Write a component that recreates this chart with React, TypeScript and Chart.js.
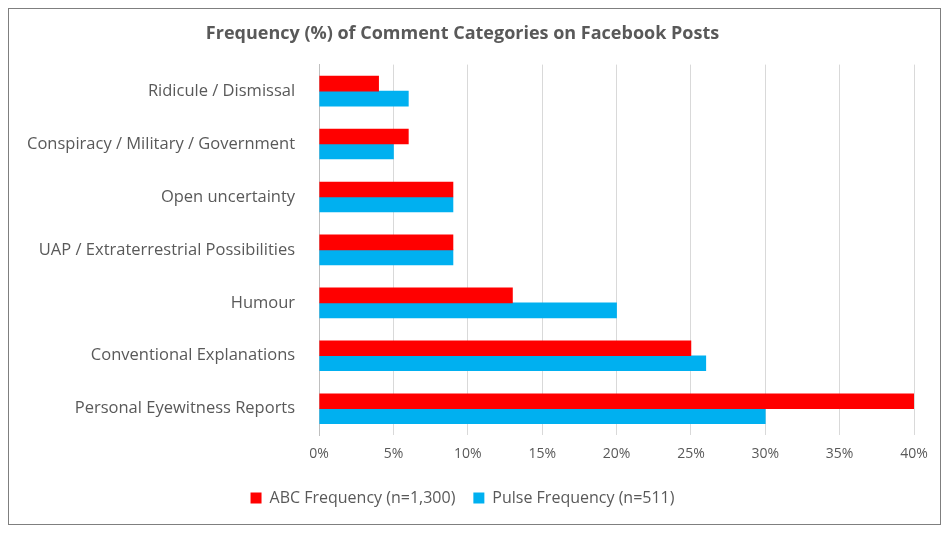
import React, { useEffect, useRef } from "react";
import { Chart, registerables } from "chart.js";
Chart.register(...registerables);

const categories = [
  "Ridicule / Dismissal",
  "Conspiracy / Military / Government",
  "Open uncertainty",
  "UAP / Extraterrestrial Possibilities",
  "Humour",
  "Conventional Explanations",
  "Personal Eyewitness Reports",
];
const abcValues = [4, 6, 9, 9, 13, 25, 40];
const pulseValues = [6, 5, 9, 9, 20, 26, 30];

export default function App() {
  const ref = useRef<HTMLCanvasElement>(null);
  useEffect(() => {
    const font = "'Open Sans', 'Liberation Sans', sans-serif";
    const chart = new Chart(ref.current!, {
      type: "bar",
      data: {
        labels: categories,
        datasets: [
          { label: "ABC Frequency (n=1,300)", data: abcValues, backgroundColor: "#FF0000", barThickness: 15 },
          { label: "Pulse Frequency (n=511)", data: pulseValues, backgroundColor: "#00B0F0", barThickness: 15 },
        ],
      },
      options: {
        indexAxis: "y",
        animation: false,
        responsive: true,
        maintainAspectRatio: false,
        layout: { padding: { left: 2, right: 26, top: 6, bottom: 8 } },
        plugins: {
          title: {
            display: true,
            text: "Frequency (%) of Comment Categories on Facebook Posts",
            color: "#595959",
            font: { family: font, size: 18, weight: "bold" },
            padding: { top: 8, bottom: 20 },
          },
          legend: {
            position: "bottom",
            labels: { color: "#595959", font: { family: font, size: 16 }, boxWidth: 11, boxHeight: 11, padding: 18 },
          },
          tooltip: { enabled: false },
        },
        scales: {
          x: {
            min: 0,
            max: 40,
            ticks: { stepSize: 5, color: "#595959", font: { family: font, size: 14 }, padding: 10, callback: (v: any) => v + "%" },
            grid: { color: "#D9D9D9", drawTicks: false },
            border: { display: false },
          },
          y: {
            ticks: { color: "#595959", font: { family: font, size: 16.5 }, padding: 16 },
            grid: { display: false },
            border: { color: "#BFBFBF" },
          },
        },
      },
    });
    return () => chart.destroy();
  }, []);
  return (
    <div style={{ width: 931, height: 515, border: "1px solid #7F7F7F", background: "#fff" }}>
      <canvas ref={ref} />
    </div>
  );
}
